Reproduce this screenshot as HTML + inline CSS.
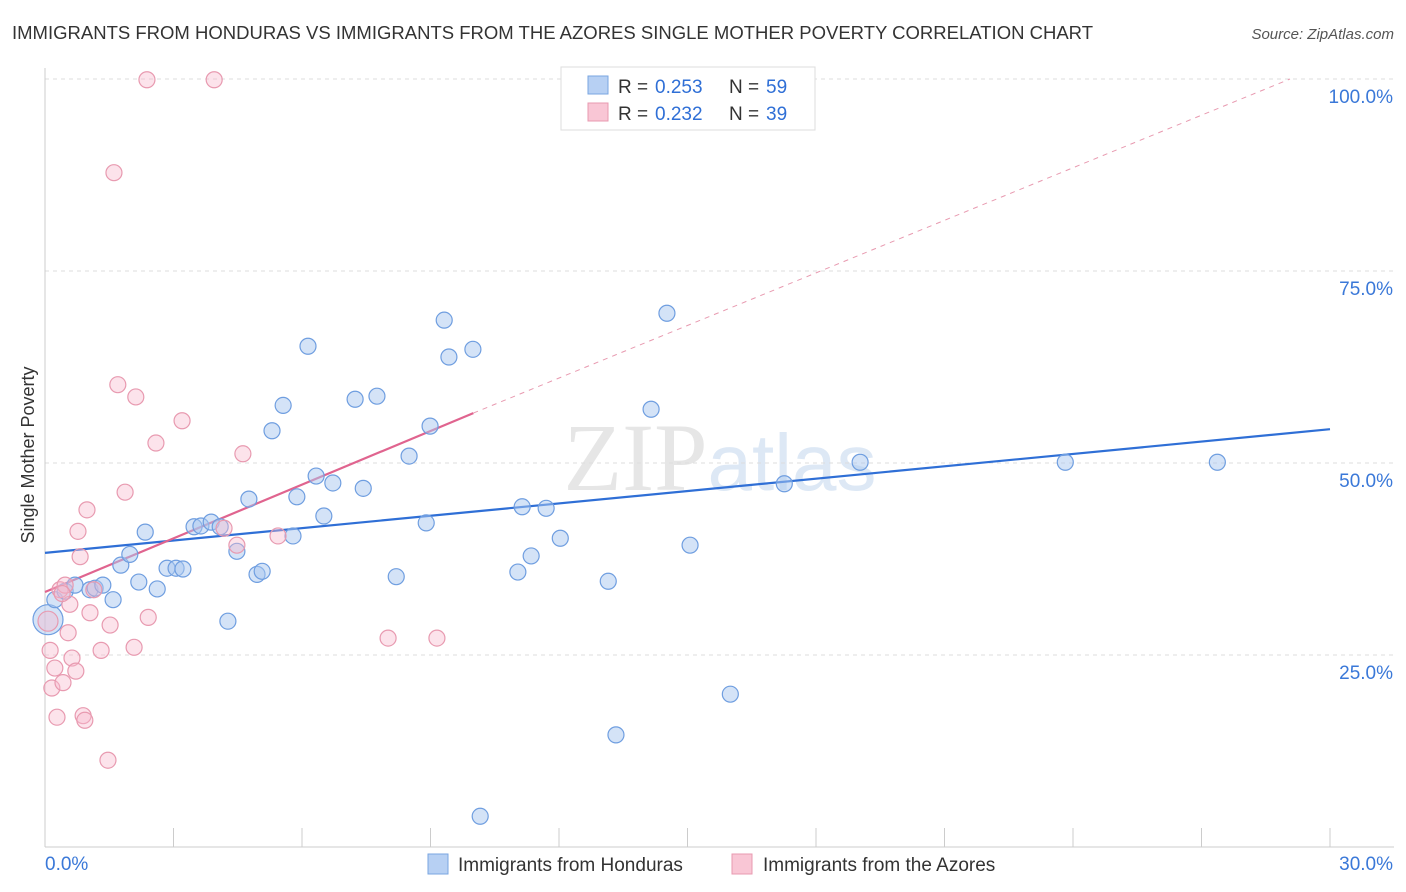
<!DOCTYPE html>
<html><head><meta charset="utf-8"><style>
body{margin:0;background:#fff;font-family:"Liberation Sans",sans-serif}
</style></head><body>
<svg id="c" width="1406" height="892" xmlns="http://www.w3.org/2000/svg" style="display:block">
<text x="12" y="39" font-size="18" fill="#333" textLength="1081" lengthAdjust="spacingAndGlyphs">IMMIGRANTS FROM HONDURAS VS IMMIGRANTS FROM THE AZORES SINGLE MOTHER POVERTY CORRELATION CHART</text>
<text x="1394" y="39" font-size="15" fill="#555" font-style="italic" text-anchor="end">Source: ZipAtlas.com</text>
<text x="720" y="490" font-size="96" fill="#e6e6e6" text-anchor="middle" font-family="Liberation Serif">ZIP<tspan fill="#dde8f5" font-family="Liberation Sans" font-size="80">atlas</tspan></text>
<text transform="translate(34,455) rotate(-90)" font-size="18" fill="#333" text-anchor="middle">Single Mother Poverty</text>
<g id="grid"></g><g id="lines"></g><g id="pts"></g>
<g>
<rect x="561" y="67" width="254" height="63" fill="#fff" stroke="#ddd"/>
<rect x="588" y="76" width="20" height="18" fill="#b7d0f3" stroke="#7aa6e0"/>
<rect x="588" y="103" width="20" height="18" fill="#f9c6d5" stroke="#e89ab0"/>
<text x="618" y="93" font-size="19" fill="#333">R =</text><text x="655" y="93" font-size="19" fill="#2f6fd6">0.253</text>
<text x="729" y="93" font-size="19" fill="#333">N =</text><text x="766" y="93" font-size="19" fill="#2f6fd6">59</text>
<text x="618" y="120" font-size="19" fill="#333">R =</text><text x="655" y="120" font-size="19" fill="#2f6fd6">0.232</text>
<text x="729" y="120" font-size="19" fill="#333">N =</text><text x="766" y="120" font-size="19" fill="#2f6fd6">39</text>
</g>
<g>
<rect x="428" y="854" width="20" height="20" fill="#b7d0f3" stroke="#7aa6e0"/>
<text x="458" y="871" font-size="19" fill="#333">Immigrants from Honduras</text>
<rect x="732" y="854" width="20" height="20" fill="#f9c6d5" stroke="#e89ab0"/>
<text x="763" y="871" font-size="19" fill="#333">Immigrants from the Azores</text>
</g>
</svg>
<script>
const blueX=[0.07,0.23,0.47,0.70,1.05,1.17,1.35,1.59,1.77,1.98,2.19,2.34,2.62,2.85,3.06,3.22,3.48,3.64,3.88,4.09,4.27,4.48,4.76,4.95,5.07,5.30,5.56,5.79,5.88,6.14,6.33,6.51,6.72,7.24,7.43,7.75,8.20,8.50,8.90,8.99,9.32,9.43,9.99,10.16,11.04,11.14,11.35,11.70,12.03,13.15,13.33,14.15,14.52,15.06,16.00,17.26,19.03,23.82,27.37];
const blueY=[29.6,32.2,33.3,34.1,33.5,33.7,34.1,32.2,36.7,38.1,34.5,41.0,33.6,36.3,36.3,36.2,41.7,41.8,42.3,41.7,29.4,38.5,45.3,35.5,35.9,54.2,57.5,40.5,45.6,65.2,48.3,43.1,47.4,58.3,46.7,58.7,35.2,50.9,42.2,54.8,68.6,63.8,64.8,4.0,35.8,44.3,37.9,44.1,40.2,34.6,14.6,57.0,69.5,39.3,19.9,47.3,50.1,50.1,50.1];
const pinkX=[0.07,0.12,0.16,0.23,0.28,0.35,0.42,0.47,0.54,0.58,0.63,0.72,0.77,0.82,0.89,0.93,0.98,1.05,1.14,1.31,1.47,1.52,1.61,1.70,1.87,2.08,2.12,2.41,2.38,2.59,3.20,3.95,4.18,4.48,4.62,5.44,8.01,9.15,0.40];
const pinkY=[29.4,25.6,20.7,23.3,16.9,33.5,21.4,34.1,27.9,31.6,24.6,22.9,41.1,37.8,17.1,16.5,43.9,30.5,33.5,25.6,11.3,28.9,87.8,60.2,46.2,26.0,58.6,29.9,99.9,52.6,55.5,99.9,41.5,39.3,51.2,40.5,27.2,27.2,33.0];
const yTicks=[25,50,75,100];
const xTickLabels=["0.0%","30.0%"];
const blueTrend=[38.3,54.4];
const pinkTrend=[33.2,56.5];
const NS="http://www.w3.org/2000/svg";
const sx=v=>45+v/30*1285, sy=v=>847-v/25*192;
function mk(t,a,p){const e=document.createElementNS(NS,t);for(const k in a)e.setAttribute(k,a[k]);p.appendChild(e);return e;}
const grid=document.getElementById('grid'),lines=document.getElementById('lines'),pts=document.getElementById('pts');
yTicks.forEach(t=>{const l=mk('line',{x1:45,x2:1394,y1:sy(t),y2:sy(t),stroke:'#ddd','stroke-dasharray':'4,4'},grid);


const tx=mk('text',{x:1393,y:sy(t)+24,'font-size':19,fill:'#3a78d8','text-anchor':'end'},grid);tx.textContent=t.toFixed(1)+'%';

});
mk('line',{x1:45,x2:45,y1:68,y2:847,stroke:'#ccc'},grid);
mk('line',{x1:45,x2:1394,y1:847,y2:847,stroke:'#ccc'},grid);
for(let i=0;i<=10;i++){const x=sx(i*3);mk('line',{x1:x,x2:x,y1:828,y2:847,stroke:'#ccc'},grid);}
const xl1=mk('text',{x:45,y:870,'font-size':19,fill:'#3a78d8'},grid);xl1.textContent=xTickLabels[0];


const xl2=mk('text',{x:1393,y:870,'font-size':19,fill:'#3a78d8','text-anchor':'end'},grid);xl2.textContent=xTickLabels[1];


const bl=mk('line',{x1:sx(0),y1:sy(blueTrend[0]),x2:sx(30),y2:sy(blueTrend[1]),stroke:'#2f6fd6','stroke-width':2.2},lines);


const pd=mk('line',{x1:sx(10),y1:sy(pinkTrend[1]),x2:1290,y2:sy(100),stroke:'#e89ab0','stroke-width':1,'stroke-dasharray':'5,5'},lines);


const pl=mk('line',{x1:sx(0),y1:sy(pinkTrend[0]),x2:sx(10),y2:sy(pinkTrend[1]),stroke:'#e0648f','stroke-width':2.2},lines);


blueX.forEach((x,i)=>{const c=mk('circle',{cx:sx(x),cy:sy(blueY[i]),r:i==0?15:8,fill:'rgba(170,200,240,0.5)',stroke:'#6f9ee0','stroke-width':1.2},pts);

});
pinkX.forEach((x,i)=>{const c=mk('circle',{cx:sx(x),cy:sy(pinkY[i]),r:i==0?10:8,fill:'rgba(248,185,205,0.4)',stroke:'#e89ab0','stroke-width':1.2},pts);

});
</script>
</body></html>
